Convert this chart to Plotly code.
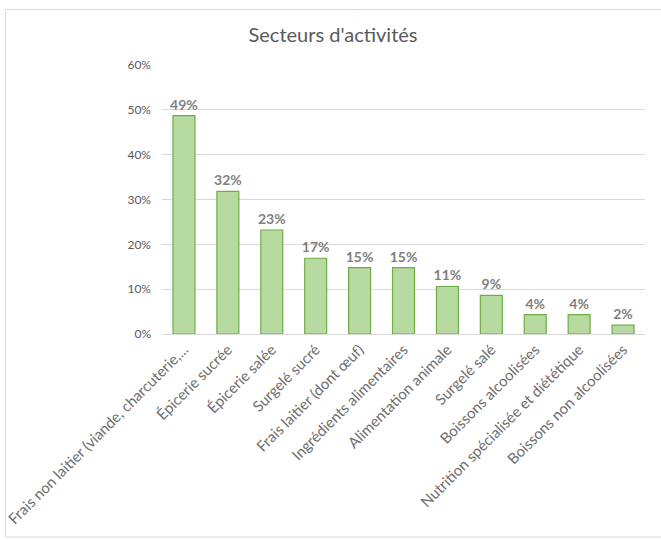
import plotly.graph_objects as go

categories = [
    "Frais non laitier (viande, charcuterie,...",
    "Épicerie sucrée",
    "Épicerie salée",
    "Surgelé sucré",
    "Frais laitier (dont œuf)",
    "Ingrédients alimentaires",
    "Alimentation animale",
    "Surgelé salé",
    "Boissons alcoolisées",
    "Nutrition spécialisée et diététique",
    "Boissons non alcoolisées",
]
values = [0.487, 0.318, 0.232, 0.169, 0.148, 0.148, 0.106, 0.086, 0.043, 0.043, 0.020]
y_ticks = [0, 0.1, 0.2, 0.3, 0.4, 0.5, 0.6]
y_tick_labels = ["0%", "10%", "20%", "30%", "40%", "50%", "60%"]

FONT = "Lato, 'Open Sans', sans-serif"

fig = go.Figure(
    go.Bar(
        x=categories,
        y=values,
        marker=dict(color="#B7DAA1", line=dict(color="#70AD47", width=1.2)),
        width=0.5,
        text=[f"{round(v*100)}%" for v in values],
        textposition="outside",
        constraintext="none",
        cliponaxis=False,
        textfont=dict(family=FONT, size=14, color="#7F7F7F", weight="bold"),
    )
)

W, H = 661, 540
ml, mr, mt, mb = 162, 16, 65, 206
pw, ph = W - ml - mr, H - mt - mb

def px_x(x):
    return (x - ml) / pw

def px_y(y):
    return (H - mb - y) / ph

fig.add_shape(
    type="rect", xref="paper", yref="paper",
    x0=px_x(5.5), x1=px_x(664), y0=px_y(537), y1=px_y(9.5),
    line=dict(color="#D9D9D9", width=1), fillcolor="rgba(0,0,0,0)", layer="above",
)

fig.update_layout(
    width=W, height=H,
    margin=dict(l=ml, r=mr, t=mt, b=mb, autoexpand=False),
    paper_bgcolor="white", plot_bgcolor="white",
    title=dict(
        text="Secteurs d'activités", x=333 / W, xref="container", xanchor="center",
        y=1 - 35 / H, yref="container", yanchor="middle",
        font=dict(family=FONT, size=20, color="#595959"),
    ),
    showlegend=False,
    xaxis=dict(
        tickangle=-45,
        tickfont=dict(family=FONT, size=15, color="#6E6E6E"),
        showline=True, linecolor="#D9D9D9", linewidth=1,
        showgrid=False, ticks="", automargin=False,
    ),
    yaxis=dict(
        range=[0, 0.6],
        tickvals=y_ticks, ticktext=y_tick_labels,
        tickfont=dict(family=FONT, size=12, color="#595959"),
        showgrid=True, gridcolor="#D9D9D9", gridwidth=1,
        zeroline=False, showline=False, ticks="",
        ticklabelstandoff=10, automargin=False,
    ),
)

fig.write_html(
    "out.html",
    config={"displayModeBar": False},
    post_script="document.body.style.margin='0';document.body.style.overflow='hidden';",
)
